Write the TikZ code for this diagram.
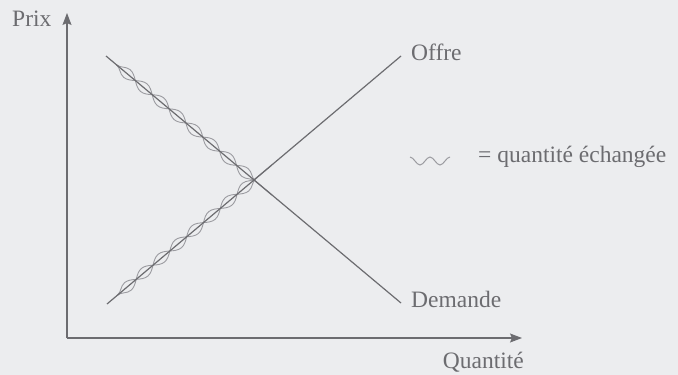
\documentclass[tikz,border=0pt]{standalone}
\usepackage{fontspec}
\setmainfont{Liberation Serif}
\usetikzlibrary{arrows.meta,calc,decorations.pathmorphing}
\definecolor{paper}{RGB}{236,237,239}
\definecolor{ink}{RGB}{108,108,112}
\definecolor{coilink}{RGB}{155,155,160}
\tikzset{
  axis/.style={draw=ink, line width=1.2pt, -{Stealth[length=12pt,width=9pt,inset=2pt]}},
  curve/.style={draw=ink, line width=1.2pt},
  traded/.style={draw=coilink, line width=0.9pt, decorate,
    decoration={snake, amplitude=5pt, segment length=44pt}},
  tradedm/.style={traded, decoration={mirror}},
  label/.style={inner sep=0pt, text=ink, font=\fontsize{23.5}{28}\selectfont}
}

\begin{document}
\begin{tikzpicture}[x=1pt, y=-1pt]
  \fill[paper] (0,0) rectangle (678,375);
  \useasboundingbox (0,0) rectangle (678,375);

  \coordinate (o) at (67,338);
  \coordinate (ytop) at (67,13);
  \coordinate (xend) at (522,338);
  \coordinate (d1) at (106,56);
  \coordinate (d2) at (401,303);
  \coordinate (s1) at (107,304);
  \coordinate (s2) at (401,56);
  \coordinate (e) at (254,180);
  \coordinate (w1) at (410,157);

  \node[label, anchor=base west] (prix) at (12,26) {Prix};
  \node[label, anchor=base east] (qte) at (524,368) {Quantité};
  \node[label, anchor=base west] (offre) at (411,60) {Offre};
  \node[label, anchor=base west] (demande) at (411,307) {Demande};
  \node[label, anchor=base west] (legend) at (478,162) {= quantité échangée};

  \draw[axis] (o) -- (ytop);
  \draw[axis] (o) -- (xend);
  \draw[traded] ($(d1)!0.07!(e)$) -- ($(d1)!1.12!(e)$);
  \draw[tradedm] ($(d1)!0.07!(e)$) -- ($(d1)!1.12!(e)$);
  \draw[traded] ($(s1)!0.07!(e)$) -- ($(s1)!1.12!(e)$);
  \draw[tradedm] ($(s1)!0.07!(e)$) -- ($(s1)!1.12!(e)$);
  \draw[curve] (d1) -- (d2);
  \draw[curve] (s1) -- (s2);
  \draw[draw=coilink, line width=1pt] (w1) cos ++(5,4) sin ++(5,4)
    cos ++(5,-4) sin ++(5,-4) cos ++(5,4) sin ++(5,4)
    cos ++(5,-4) sin ++(5,-4);
\end{tikzpicture}
\end{document}
